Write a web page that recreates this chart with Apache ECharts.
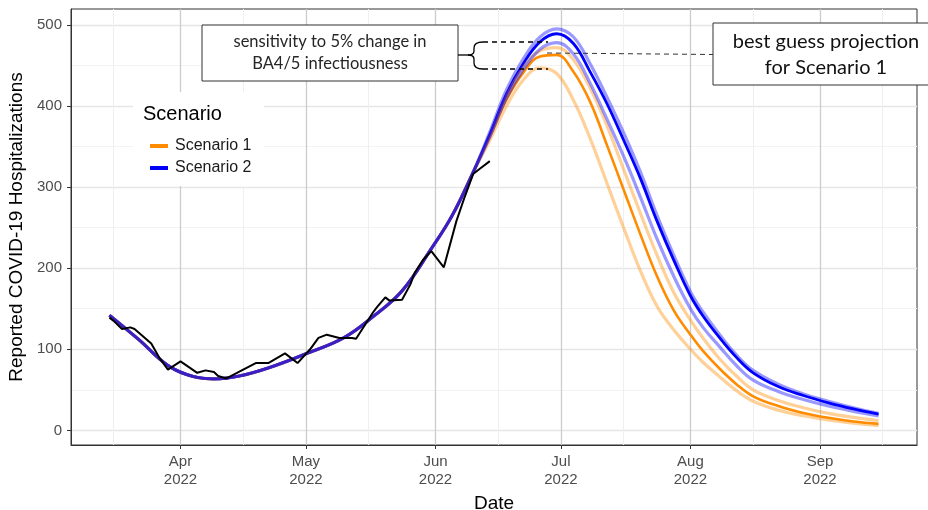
<!DOCTYPE html>
<html>
<head>
<meta charset="utf-8">
<script src="https://cdn.jsdelivr.net/npm/echarts@6/dist/echarts.min.js"></script>
<style>
  html, body { margin: 0; padding: 0; background: #fff; }
  #chart { width: 928px; height: 510px; }
</style>
</head>
<body>
<div id="chart"></div>
<script>
// dates shared by all six projection curves
var projDates = [
  '2022-03-15', '2022-03-22', '2022-03-29', '2022-04-04', '2022-04-09', '2022-04-15',
  '2022-04-22', '2022-05-01', '2022-05-10', '2022-05-17', '2022-05-24', '2022-05-31',
  '2022-06-05', '2022-06-10',
  '2022-06-14', '2022-06-18', '2022-06-22', '2022-06-26', '2022-06-30', '2022-07-04',
  '2022-07-08', '2022-07-12', '2022-07-16', '2022-07-20', '2022-07-24', '2022-07-28',
  '2022-08-01', '2022-08-04', '2022-08-08', '2022-08-12', '2022-08-16', '2022-08-22',
  '2022-08-28', '2022-09-03', '2022-09-09', '2022-09-15'
];
// fitted part, same for every curve up to Jun 10
var fitEarly = [142, 112, 80, 66.5, 63.5, 67, 77, 94.5, 114, 140, 172, 224, 265, 318];

var s1BestLate = [362, 408, 441, 461, 463, 442, 405, 352, 297, 242, 190, 148, 118, 98, 76, 57, 42, 30, 21.5, 15.5, 11, 8];
var s1HighLate = [363, 412, 447, 468, 472, 457, 422, 376, 322, 268, 216, 170, 136, 114, 88, 67, 50, 37, 28, 21, 16, 12];
var s1LowLate  = [358, 400, 432, 447, 440, 407, 360, 305, 250, 197, 153, 124, 100, 84, 66, 49, 36, 25, 18, 13, 9, 6];
var s2BestLate = [365, 415, 452, 479, 489, 477, 442, 403, 358, 311, 258, 210, 166, 141, 114, 90, 71, 54, 43, 34, 26.5, 20];
var s2HighLate = [368, 420, 458, 485, 495, 485, 452, 411, 367, 319, 265, 216, 171, 146, 118, 93, 74, 57, 45, 36, 28, 21];
var s2LowLate  = [362, 410, 445, 470, 478, 464, 428, 384, 338, 288, 236, 190, 150, 127, 103, 80, 62, 48, 38, 30, 23.5, 18];

// reported hospitalizations
var obsDates = [
  '2022-03-15', '2022-03-16', '2022-03-18', '2022-03-20', '2022-03-21', '2022-03-25',
  '2022-03-27', '2022-03-29', '2022-04-01', '2022-04-05', '2022-04-07', '2022-04-09',
  '2022-04-10', '2022-04-12', '2022-04-16', '2022-04-19', '2022-04-22', '2022-04-26',
  '2022-04-29', '2022-05-02', '2022-05-04', '2022-05-06', '2022-05-09', '2022-05-12',
  '2022-05-13', '2022-05-17', '2022-05-18', '2022-05-20', '2022-05-21', '2022-05-24',
  '2022-05-26', '2022-05-27', '2022-05-29', '2022-05-31', '2022-06-03', '2022-06-06',
  '2022-06-08', '2022-06-10', '2022-06-12', '2022-06-14'
];
var obsValues = [
  139, 135, 125, 127, 125, 107, 89, 75, 85, 71, 74, 72, 67, 64, 75, 83, 83, 95,
  83, 100, 114, 118, 114, 114, 113, 145, 152, 164, 160, 161, 180, 194, 210, 221,
  201, 258, 288, 316, 324, 332
];

var monthTicks = ['2022-04-01', '2022-05-01', '2022-06-01', '2022-07-01', '2022-08-01', '2022-09-01'];
var monthNames = ['Apr', 'May', 'Jun', 'Jul', 'Aug', 'Sep'];
var minorTicks = ['2022-03-16', '2022-04-16', '2022-05-16', '2022-06-16', '2022-07-16', '2022-08-16', '2022-09-16'];
var yTicks = [0, 100, 200, 300, 400, 500];
var yMinor = [50, 150, 250, 350, 450];

function ts(s) {
  var p = s.split('-');
  return new Date(+p[0], +p[1] - 1, +p[2]).getTime();
}
function pairs(dates, vals) {
  return dates.map(function (d, i) { return [ts(d), vals[i]]; });
}

var DAY = 86400000;
var xMin = ts(projDates[0]) - 9.2 * DAY;
var xMax = ts(projDates[projDates.length - 1]) + 9.2 * DAY;
var monthTs = monthTicks.map(ts);

var font = 'Liberation Sans, Arial, sans-serif';
var noteFont = 'Lato, Open Sans, sans-serif';
var orange = '#FF8C00';
var blue = '#0000FF';

function curve(name, vals, color, width, z) {
  return {
    name: name,
    type: 'line',
    data: pairs(projDates, vals),
    showSymbol: false,
    smooth: 0.4,
    color: color,
    lineStyle: { color: color, width: width },
    z: z,
    silent: true
  };
}

// annotation strokes
var brace = { stroke: '#000', lineWidth: 1.3, fill: null };
function seg(x1, y1, x2, y2, style) {
  return { type: 'line', z: 21, shape: { x1: x1, y1: y1, x2: x2, y2: y2 }, style: style };
}
function curl(x1, y1, cx, cy, x2, y2) {
  return { type: 'bezierCurve', z: 21, shape: { x1: x1, y1: y1, cpx1: cx, cpy1: cy, x2: x2, y2: y2 }, style: brace };
}
function note(x, y, txt, size, color) {
  return { type: 'text', z: 21, x: x, y: y, style: { text: txt, font: size + 'px ' + noteFont, fill: color, align: 'center', verticalAlign: 'middle' } };
}

var chart = echarts.init(document.getElementById('chart'));
chart.setOption({
  animation: false,
  backgroundColor: '#fff',
  grid: {
    left: 71, top: 9, width: 846, height: 436, show: true, borderColor: '#333', borderWidth: 1,
    containLabel: false, outerBoundsMode: 'none'
  },
  xAxis: [
    {
      type: 'value', min: xMin, max: xMax,
      name: 'Date', nameLocation: 'middle', nameGap: 47,
      nameTextStyle: { fontFamily: font, fontSize: 19, color: '#000' },
      axisLine: { show: true, onZero: false, lineStyle: { color: '#333', width: 1 } },
      axisTick: { show: true, length: 4, lineStyle: { color: '#333' }, customValues: monthTs },
      axisLabel: {
        customValues: monthTs, margin: 8,
        fontFamily: font, fontSize: 15, color: '#4d4d4d', lineHeight: 18,
        formatter: function (v) {
          var i = monthTs.indexOf(v);
          return (i >= 0 ? monthNames[i] : '') + '\n2022';
        }
      },
      splitLine: { show: true, lineStyle: { color: '#cccccc', width: 1.3 } }
    },
    {
      type: 'value', min: xMin, max: xMax, position: 'bottom',
      axisLine: { show: false, onZero: false },
      axisTick: { show: false, customValues: minorTicks.map(ts) },
      axisLabel: { show: false, customValues: minorTicks.map(ts) },
      splitLine: { show: true, lineStyle: { color: '#efefef', width: 1 } }
    }
  ],
  yAxis: [
    {
      type: 'value', min: -18, max: 519.5,
      name: 'Reported COVID-19 Hospitalizations', nameLocation: 'middle', nameGap: 45,
      nameTextStyle: { fontFamily: font, fontSize: 19, color: '#000' },
      axisLine: { show: true, onZero: false, lineStyle: { color: '#333', width: 1 } },
      axisTick: { show: true, length: 4, lineStyle: { color: '#333' }, customValues: yTicks },
      axisLabel: { customValues: yTicks, margin: 9, fontFamily: font, fontSize: 15, color: '#4d4d4d' },
      splitLine: { show: true, lineStyle: { color: '#e6e6e6', width: 1.3 } }
    },
    {
      type: 'value', min: -18, max: 519.5, position: 'left',
      axisLine: { show: false, onZero: false },
      axisTick: { show: false, customValues: yMinor },
      axisLabel: { show: false, customValues: yMinor },
      splitLine: { show: true, lineStyle: { color: '#f3f3f3', width: 1 } }
    }
  ],
  legend: {
    data: ['Scenario 1', 'Scenario 2'],
    orient: 'vertical', left: 145, top: 133, z: 10,
    icon: 'rect', itemWidth: 18, itemHeight: 4, itemGap: 6,
    textStyle: { fontFamily: font, fontSize: 16, color: '#1a1a1a', padding: [0, 0, 0, 2] },
    selectedMode: false
  },
  graphic: [
    // legend box + title
    { type: 'rect', z: 5, shape: { x: 133, y: 92, width: 131, height: 94 }, style: { fill: '#fff' } },
    { type: 'text', z: 6, x: 143, y: 114, style: { text: 'Scenario', font: '20px ' + font, fill: '#000', verticalAlign: 'middle' } },
    // annotation: sensitivity
    { type: 'rect', z: 20, shape: { x: 202, y: 25, width: 256, height: 56 }, style: { fill: '#fff', stroke: '#333', lineWidth: 1 } },
    note(330, 42, 'sensitivity to 5% change in', 16.5, '#262626'),
    note(330, 64, 'BA4/5 infectiousness', 16.5, '#262626'),
    seg(458, 55, 468, 55, brace),
    curl(483, 42, 474, 42, 474, 48),
    seg(474, 48, 474, 51, brace),
    curl(474, 51, 474, 55, 468, 55),
    curl(468, 55, 474, 55, 474, 59),
    seg(474, 59, 474, 63, brace),
    curl(474, 63, 474, 69, 483, 69),
    seg(483, 42, 548, 42, { stroke: '#000', lineWidth: 1.3, lineDash: [5, 4] }),
    seg(483, 69, 548, 69, { stroke: '#000', lineWidth: 1.3, lineDash: [5, 4] }),
    // annotation: best guess
    seg(547, 53, 713, 54.5, { stroke: '#333', lineWidth: 1, lineDash: [5, 4] }),
    { type: 'rect', z: 20, shape: { x: 713, y: 23, width: 216, height: 62 }, style: { fill: '#fff', stroke: '#333', lineWidth: 1 } },
    note(826, 42, 'best guess projection', 20, '#111'),
    note(826, 68, 'for Scenario 1', 20, '#111')
  ],
  series: [
    curve('Scenario 1', fitEarly.concat(s1BestLate), orange, 2.6, 2),
    curve('Scenario 2', fitEarly.concat(s2BestLate), blue, 2.8, 3),
    curve('S1 high', fitEarly.concat(s1HighLate), 'rgba(255,140,0,0.4)', 3.2, 4),
    curve('S1 low', fitEarly.concat(s1LowLate), 'rgba(255,140,0,0.4)', 3.2, 4),
    curve('S2 high', fitEarly.concat(s2HighLate), 'rgba(0,0,255,0.4)', 3.2, 4),
    curve('S2 low', fitEarly.concat(s2LowLate), 'rgba(0,0,255,0.4)', 3.2, 4),
    {
      name: 'Reported', type: 'line', data: pairs(obsDates, obsValues),
      showSymbol: false, color: '#000', lineStyle: { color: '#000', width: 2 }, z: 6, silent: true
    }
  ]
});
</script>
</body>
</html>
